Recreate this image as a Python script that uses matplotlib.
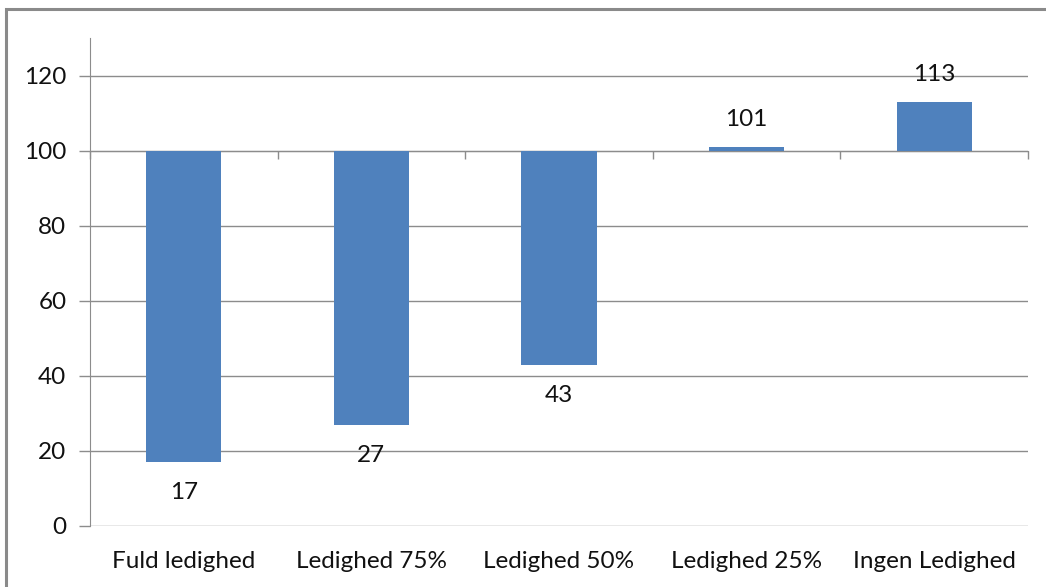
import matplotlib.pyplot as plt
from matplotlib.patches import Rectangle
from matplotlib.transforms import blended_transform_factory

categories = ['Fuld ledighed', 'Ledighed 75%', 'Ledighed 50%', 'Ledighed 25%', 'Ingen Ledighed']
values = [17, 27, 43, 101, 113]
baseline = 100
yticks = [0, 20, 40, 60, 80, 100, 120]

plt.rcParams['font.family'] = ['Lato', 'DejaVu Sans']
fig = plt.figure(figsize=(10.46, 5.87), dpi=100)
ax = fig.add_axes([90 / 1046, 1 - 526 / 587, 938 / 1046, 488 / 587])

# outer chart frame
fig.patches.append(Rectangle((6 / 1046, -0.05), 1.1, 1 - 9 / 587 + 0.05,
                             transform=fig.transFigure, fill=False,
                             edgecolor='#8a8a8a', linewidth=2.2))

x = list(range(len(categories)))
heights = [v - baseline for v in values]
ax.bar(x, heights, bottom=baseline, width=0.4, color='#4f81bd', zorder=3)

fs = 17.5
for xi, v in zip(x, values):
    off = 20 if v >= baseline else -22
    ax.annotate(str(v), (xi, v), xytext=(0, off), textcoords='offset points',
                ha='center', va='center', fontsize=fs, color='#111111', zorder=4)

ax.set_xlim(-0.5, len(categories) - 0.5)
ax.set_ylim(0, 130)
ax.set_yticks(yticks)
ax.grid(axis='y', color='#8c8c8c', linewidth=1.0, zorder=0)
ax.tick_params(axis='y', length=8, width=1, color='#8c8c8c', labelsize=fs,
               labelcolor='#111111', pad=9)

ax.spines['top'].set_visible(False)
ax.spines['right'].set_visible(False)
ax.spines['left'].set_color('#8c8c8c')
ax.spines['bottom'].set_position(('data', baseline))
ax.spines['bottom'].set_color('#8c8c8c')
ax.set_xticks([i - 0.5 for i in range(len(categories) + 1)])
ax.set_xticklabels([])
ax.tick_params(axis='x', length=6, width=1, color='#8c8c8c', direction='out')

trans = blended_transform_factory(ax.transData, ax.transAxes)
for xi, c in zip(x, categories):
    ax.text(xi, -0.072, c, transform=trans, ha='center', va='center',
            fontsize=fs, color='#111111')

fig.savefig('out.png', dpi=100)
